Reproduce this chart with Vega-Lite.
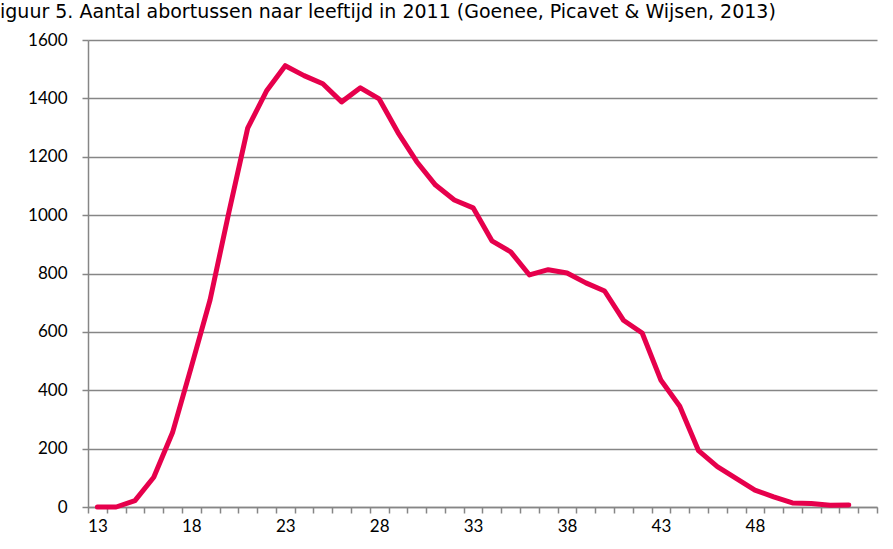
{
  "$schema": "https://vega.github.io/schema/vega-lite/v6.json",
  "width": 789,
  "height": 467,
  "autosize": "none",
  "padding": {"left": 88, "top": 40, "right": 16, "bottom": 42},
  "background": "white",
  "title": {
    "text": "iguur 5. Aantal abortussen naar leeftijd in 2011 (Goenee, Picavet & Wijsen, 2013)",
    "anchor": "start",
    "frame": "group",
    "dx": -88,
    "offset": 9,
    "font": "DejaVu Sans",
    "fontSize": 19,
    "fontWeight": "normal",
    "color": "#000000"
  },
  "data": {
    "values": [
      {"leeftijd": 13, "aantal": 0},
      {"leeftijd": 14, "aantal": 0},
      {"leeftijd": 15, "aantal": 22},
      {"leeftijd": 16, "aantal": 102},
      {"leeftijd": 17, "aantal": 255},
      {"leeftijd": 18, "aantal": 480},
      {"leeftijd": 19, "aantal": 710},
      {"leeftijd": 20, "aantal": 1010},
      {"leeftijd": 21, "aantal": 1298},
      {"leeftijd": 22, "aantal": 1425},
      {"leeftijd": 23, "aantal": 1512},
      {"leeftijd": 24, "aantal": 1478},
      {"leeftijd": 25, "aantal": 1450},
      {"leeftijd": 26, "aantal": 1388},
      {"leeftijd": 27, "aantal": 1436},
      {"leeftijd": 28, "aantal": 1398},
      {"leeftijd": 29, "aantal": 1283},
      {"leeftijd": 30, "aantal": 1183},
      {"leeftijd": 31, "aantal": 1103},
      {"leeftijd": 32, "aantal": 1052},
      {"leeftijd": 33, "aantal": 1025},
      {"leeftijd": 34, "aantal": 912},
      {"leeftijd": 35, "aantal": 874},
      {"leeftijd": 36, "aantal": 795},
      {"leeftijd": 37, "aantal": 813},
      {"leeftijd": 38, "aantal": 802},
      {"leeftijd": 39, "aantal": 768},
      {"leeftijd": 40, "aantal": 740},
      {"leeftijd": 41, "aantal": 640},
      {"leeftijd": 42, "aantal": 596},
      {"leeftijd": 43, "aantal": 434},
      {"leeftijd": 44, "aantal": 345},
      {"leeftijd": 45, "aantal": 193},
      {"leeftijd": 46, "aantal": 138},
      {"leeftijd": 47, "aantal": 98},
      {"leeftijd": 48, "aantal": 58},
      {"leeftijd": 49, "aantal": 35},
      {"leeftijd": 50, "aantal": 14},
      {"leeftijd": 51, "aantal": 12},
      {"leeftijd": 52, "aantal": 6},
      {"leeftijd": 53, "aantal": 7}
    ]
  },
  "mark": {
    "type": "line",
    "color": "#E6004C",
    "strokeWidth": 5,
    "strokeJoin": "round",
    "strokeCap": "round"
  },
  "encoding": {
    "x": {
      "field": "leeftijd",
      "type": "ordinal",
      "bandPosition": 0.5,
      "scale": {
        "type": "band",
        "domain": [13,14,15,16,17,18,19,20,21,22,23,24,25,26,27,28,29,30,31,32,33,34,35,36,37,38,39,40,41,42,43,44,45,46,47,48,49,50,51,52,53,54],
        "paddingInner": 0,
        "paddingOuter": 0
      },
      "axis": {
        "title": null,
        "labelAngle": 0,
        "labelExpr": "(datum.value <= 48 && (datum.value - 13) % 5 == 0) ? datum.label : ''",
        "labelOverlap": false,
        "tickBand": "extent",
        "tickSize": 6,
        "tickColor": "#868686",
        "tickWidth": 1.5,
        "domainColor": "#868686",
        "domainWidth": 1.5,
        "labelFont": "Lato",
        "labelFontSize": 17,
        "labelColor": "#000000",
        "labelPadding": 5,
        "grid": false
      }
    },
    "y": {
      "field": "aantal",
      "type": "quantitative",
      "scale": {"domain": [0, 1600], "nice": false},
      "axis": {
        "title": null,
        "format": "d",
        "values": [0, 200, 400, 600, 800, 1000, 1200, 1400, 1600],
        "grid": true,
        "gridColor": "#868686",
        "gridWidth": 1.5,
        "tickSize": 6,
        "tickColor": "#868686",
        "tickWidth": 1.5,
        "domainColor": "#868686",
        "domainWidth": 1.5,
        "labelFont": "Lato",
        "labelFontSize": 17,
        "labelColor": "#000000",
        "labelPadding": 15
      }
    }
  },
  "config": {"view": {"stroke": null}}
}
